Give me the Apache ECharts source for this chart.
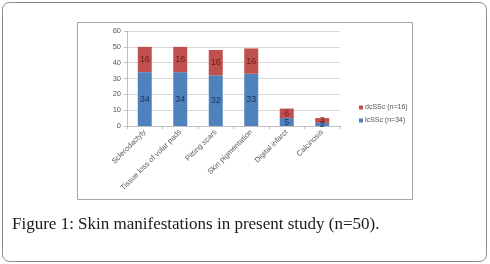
<!DOCTYPE html>
<html><head><meta charset="utf-8">
<script src="https://cdn.jsdelivr.net/npm/echarts@6/dist/echarts.min.js"></script>
<style>html,body{margin:0;padding:0;background:#fff}#c{width:490px;height:264px}</style>
</head><body><div id="c"></div>
<script>
const categories = ['Sclerodactyly','Tissue loss of volar pads','Pitting scars','Skin pigmentation','Digital infarct','Calcinosis'];
const lcSSc = [34,34,32,33,5,2];
const dcSSc = [16,16,16,16,6,3];
const seriesNames = ['lcSSc (n=34)','dcSSc (n=16)'];
const yTicks = {min:0,max:60,interval:10};
const caption = 'Figure 1: Skin manifestations in present study (n=50).';

const chart = echarts.init(document.getElementById('c'), null, {renderer:'canvas'});
chart.setOption({
  animation:false,
  backgroundColor:'#fff',
  graphic:[
    {type:'rect',shape:{x:2.5,y:2.5,width:484,height:259,r:7},style:{fill:'none',stroke:'#8a8a8a',lineWidth:1},z:-1},
    {type:'rect',shape:{x:77.5,y:22.5,width:335,height:177},style:{fill:'none',stroke:'#a6a6a6',lineWidth:1},z:-1},
    {type:'text',left:12,top:216,style:{text:caption,font:'17px "Liberation Serif", serif',fill:'#1a1a1a'}}
  ],
  grid:{left:127,right:150,top:31,bottom:138,containLabel:false},
  legend:{
    orient:'vertical',left:354,top:99,itemWidth:4,itemHeight:4,itemGap:6,icon:'rect',
    data:[seriesNames[1],seriesNames[0]],
    textStyle:{fontSize:7,color:'#555',fontFamily:'"Liberation Sans", sans-serif',padding:[0,0,0,-3]}
  },
  xAxis:{
    type:'category',data:categories,
    axisLine:{lineStyle:{color:'#bfbfbf'}},
    axisTick:{show:true,length:3,lineStyle:{color:'#bfbfbf'}},
    axisLabel:{rotate:45,fontSize:7.5,color:'#595959',margin:5,interval:0,fontFamily:'"Liberation Sans", sans-serif'}
  },
  yAxis:{
    type:'value',min:yTicks.min,max:yTicks.max,interval:yTicks.interval,
    axisLine:{show:true,lineStyle:{color:'#bfbfbf'}},
    axisTick:{show:true,length:3,lineStyle:{color:'#bfbfbf'}},
    splitLine:{lineStyle:{color:'#d9d9d9'}},
    axisLabel:{fontSize:7.5,color:'#595959',margin:6,fontFamily:'"Liberation Sans", sans-serif'}
  },
  series:[
    {name:seriesNames[0],type:'bar',stack:'a',data:lcSSc,barWidth:14,
     itemStyle:{color:'#4f81bd'},
     label:{show:true,position:'inside',fontSize:9,color:'#1c355e',fontFamily:'"Liberation Sans", sans-serif'}},
    {name:seriesNames[1],type:'bar',stack:'a',data:dcSSc,barWidth:14,
     itemStyle:{color:'#c0504d'},
     label:{show:true,position:'inside',fontSize:9,color:'#6e1c1a',fontFamily:'"Liberation Sans", sans-serif'}}
  ]
});
</script></body></html>
